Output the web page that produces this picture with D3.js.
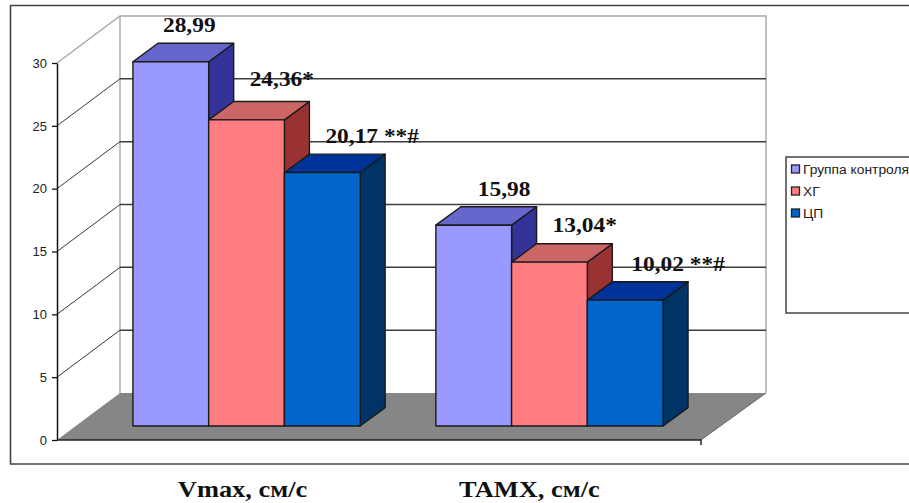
<!DOCTYPE html>
<html>
<head>
<meta charset="utf-8">
<script src="https://cdn.jsdelivr.net/npm/d3@7/dist/d3.min.js"></script>
<style>
  html, body { margin: 0; padding: 0; background: #fff; overflow: hidden; }
  svg { display: block; }
</style>
</head>
<body>
<svg id="chart" width="909" height="503"></svg>
<script>
// Flow velocities per measure and patient group
const categories = ["Vmax, см/с", "TAMX, см/с"];
const seriesNames = ["Группа контроля", "ХГ", "ЦП"];
const controlValues = [28.99, 15.98];
const hgValues = [24.36, 13.04];
const cpValues = [20.17, 10.02];
const valueText = [["28,99", "15,98"], ["24,36*", "13,04*"], ["20,17 **#", "10,02 **#"]];
const tickValues = [0, 5, 10, 15, 20, 25, 30];
const seriesValues = [controlValues, hgValues, cpValues];

const palette = [
  { front: "#9999FF", top: "#6666CC", side: "#333399" },
  { front: "#FF7C80", top: "#CC6666", side: "#993333" },
  { front: "#0066CC", top: "#003399", side: "#003366" }
];

// Pseudo-3D geometry: wall offset from the axis plane, bar offset and bar depth
const wallDx = 63, wallDy = 47;
const barDx = 19, barDy = 14;
const depthDx = 25, depthDy = 18.4;
const axisX = 57, floorRight = 701;

const svg = d3.select("#chart");
const y = d3.scaleLinear().domain([0, 30]).range([440, 63]);
const x0 = d3.scaleBand().domain(categories)
  .range([axisX + barDx, floorRight + barDx])
  .paddingInner(0.25).paddingOuter(0.188);
const x1 = d3.scaleBand().domain(seriesNames).range([0, x0.bandwidth()]);

const pts = p => p.map(q => q.join(",")).join(" ");

// Chart frame, running off the right edge of the page
svg.append("path")
  .attr("d", "M909,5.5H10.5V464H909")
  .attr("fill", "#fff").attr("stroke", "#444").attr("stroke-width", 1.6);

// Back wall edges
svg.append("polyline")
  .attr("points", pts([[axisX, y(30)], [axisX + wallDx, y(30) - wallDy], [766, y(30) - wallDy], [766, y(0) - wallDy]]))
  .attr("fill", "none").attr("stroke", "#a6a6a6").attr("stroke-width", 1.4);
svg.append("line")
  .attr("x1", axisX + wallDx).attr("x2", axisX + wallDx)
  .attr("y1", y(30) - wallDy).attr("y2", y(0) - wallDy)
  .attr("stroke", "#a6a6a6").attr("stroke-width", 1.4);

// Gridlines wrap from the axis across the side wall to the back wall
const grid = svg.append("g");
tickValues.filter(t => t > 0 && t < 30).forEach(t => {
  grid.append("line")
    .attr("x1", axisX).attr("y1", y(t))
    .attr("x2", axisX + wallDx).attr("y2", y(t) - wallDy)
    .attr("stroke", "#222").attr("stroke-width", 0.9);
  grid.append("line")
    .attr("x1", axisX + wallDx).attr("y1", y(t) - wallDy)
    .attr("x2", 766).attr("y2", y(t) - wallDy)
    .attr("stroke", "#3c3c3c").attr("stroke-width", 1.5);
});

// Floor
svg.append("polygon")
  .attr("points", pts([[axisX, y(0)], [axisX + wallDx, y(0) - wallDy], [766, y(0) - wallDy], [floorRight, y(0)]]))
  .attr("fill", "#868686");
svg.append("line")
  .attr("x1", floorRight).attr("y1", y(0)).attr("x2", 766).attr("y2", y(0) - wallDy)
  .attr("stroke", "#555").attr("stroke-width", 0.8);
svg.append("path")
  .attr("d", `M${axisX},${y(0)}H${floorRight}V${y(0) + 5}`)
  .attr("fill", "none").attr("stroke", "#222").attr("stroke-width", 1.5);

// Value axis
const axis = svg.append("g")
  .attr("transform", `translate(${axisX},0)`)
  .call(d3.axisLeft(y).tickValues(tickValues).tickSize(5).tickPadding(5).tickSizeOuter(0));
axis.select(".domain").attr("stroke", "#111").attr("stroke-width", 1.5);
axis.selectAll(".tick line").attr("stroke", "#111").attr("stroke-width", 1.3);
axis.selectAll(".tick text")
  .attr("font-family", "'Liberation Sans', Arial, sans-serif")
  .attr("font-size", 13).attr("fill", "#222");

// Bars, painted left to right so each one overlaps its neighbour's side face
const bars = svg.append("g").attr("stroke", "#1a1a1a").attr("stroke-width", 1.4).attr("stroke-linejoin", "round");
const baseY = y(0) - barDy;
const barScale = v => baseY - (y(0) - y(v));
const tops = [];
categories.forEach((cat, c) => {
  seriesNames.forEach((name, s) => {
    const v = seriesValues[s][c];
    const left = x0(cat) + x1(name), right = left + x1.bandwidth(), top = barScale(v);
    tops.push({ s, c, left, top });
    bars.append("polygon")
      .attr("points", pts([[right, top], [right + depthDx, top - depthDy], [right + depthDx, baseY - depthDy], [right, baseY]]))
      .attr("fill", palette[s].side);
    bars.append("polygon")
      .attr("points", pts([[left, top], [left + depthDx, top - depthDy], [right + depthDx, top - depthDy], [right, top]]))
      .attr("fill", palette[s].top);
    bars.append("rect")
      .attr("x", left).attr("y", top)
      .attr("width", right - left).attr("height", baseY - top)
      .attr("fill", palette[s].front);
  });
});

// Serif bold captions are drawn wider than the face's natural proportions
function widen(sel, factor) {
  sel.each(function () {
    const t = d3.select(this);
    t.attr("textLength", this.getComputedTextLength() * factor)
     .attr("lengthAdjust", "spacingAndGlyphs");
  });
}

// Value labels sit above and right of each bar's front-left corner
const labelNudge = [[[-11, 0], [1, 1]], [[0, -4], [0, 0]], [[0, 0], [3, 1]]];
const labels = svg.append("g")
  .attr("font-family", "'Liberation Serif', 'Times New Roman', serif")
  .attr("font-weight", "bold").attr("font-size", 20).attr("fill", "#111");
tops.forEach(d => {
  labels.append("text")
    .attr("x", d.left + 41 + labelNudge[d.s][d.c][0])
    .attr("y", d.top - 30 + labelNudge[d.s][d.c][1])
    .text(valueText[d.s][d.c]);
});
widen(labels.selectAll("text"), 1.17);

// Category captions below the frame
const captionNudge = [-4, -20];
const captions = svg.append("g")
  .attr("font-family", "'Liberation Serif', 'Times New Roman', serif")
  .attr("font-weight", "bold").attr("font-size", 24).attr("fill", "#111");
categories.forEach((cat, c) => {
  captions.append("text")
    .attr("x", x0(cat) + x0.bandwidth() / 2 + captionNudge[c])
    .attr("y", 497).attr("text-anchor", "middle").text(cat);
});
widen(captions.selectAll("text"), 1.1);

// Legend box, clipped by the page edge
svg.append("path")
  .attr("d", "M909,157H786V313H909")
  .attr("fill", "#fff").attr("stroke", "#444").attr("stroke-width", 1.5);
const legendY = d3.scalePoint().domain(seriesNames).range([169.5, 213.5]);
const legend = svg.append("g");
seriesNames.forEach((name, s) => {
  legend.append("rect")
    .attr("x", 791.5).attr("y", legendY(name) - 4.5).attr("width", 8).attr("height", 8)
    .attr("fill", palette[s].front).attr("stroke", "#222").attr("stroke-width", 1.3);
  legend.append("text")
    .attr("x", 803).attr("y", legendY(name) + 4)
    .attr("font-family", "'Liberation Sans', Arial, sans-serif")
    .attr("font-size", 12).attr("fill", "#222").text(name);
});
widen(legend.selectAll("text"), 1.15);
</script>
</body>
</html>
